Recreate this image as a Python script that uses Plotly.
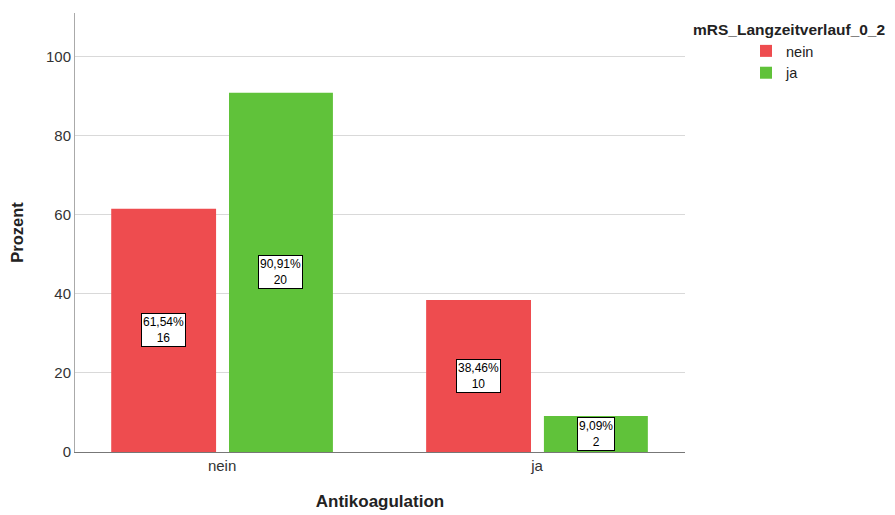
import plotly.graph_objects as go

categories = ["nein", "ja"]
series_names = ["nein", "ja"]
pct_nein = [61.54, 38.46]
pct_ja = [90.91, 9.09]
cnt_nein = [16, 10]
cnt_ja = [20, 2]
pct_labels_nein = ["61,54%", "38,46%"]
pct_labels_ja = ["90,91%", "9,09%"]
y_ticks = [0, 20, 40, 60, 80, 100]

RED = "#EE4C4F"
GREEN = "#60C23A"
FONT = "Liberation Sans, Arial, sans-serif"

xpos = list(range(len(categories)))
fig = go.Figure()
fig.add_trace(go.Bar(x=xpos, y=pct_nein, name=series_names[0], marker=dict(color=RED, line=dict(width=0)),
                     width=0.333, offset=-0.352))
fig.add_trace(go.Bar(x=xpos, y=pct_ja, name=series_names[1], marker=dict(color=GREEN, line=dict(width=0)),
                     width=0.330, offset=0.022))

for xs, ys, pl, cn, off in [(xpos, pct_nein, pct_labels_nein, cnt_nein, -0.1855),
                             (xpos, pct_ja, pct_labels_ja, cnt_ja, 0.187)]:
    for x, y, p, c in zip(xs, ys, pl, cn):
        fig.add_annotation(x=x + off, y=y / 2, text=f"{p}<br>{c}", showarrow=False,
                           font=dict(family=FONT, size=12, color="black"),
                           bgcolor="white", bordercolor="black", borderwidth=1, borderpad=1)

fig.update_layout(
    width=895, height=515,
    margin=dict(l=67, r=218, t=5, b=71),
    plot_bgcolor="white", paper_bgcolor="white",
    font=dict(family=FONT, size=13, color="#333333"),
    barmode="group",
    showlegend=True,
    legend=dict(x=1.100, y=0.950, xanchor="left", yanchor="top", xref="paper", yref="paper",
                font=dict(family=FONT, size=14.5, color="#222222"), tracegroupgap=0,
                itemwidth=30, bgcolor="rgba(0,0,0,0)"),
    xaxis=dict(range=[-0.467, 1.47], tickvals=xpos, ticktext=categories, showgrid=False,
               showline=True, linecolor="#777777", linewidth=1, ticks="", zeroline=False,
               tickfont=dict(size=15, color="#333333"),
               title=dict(text="<b>Antikoagulation</b>", font=dict(size=17, color="#222222"), standoff=22)),
    yaxis=dict(range=[0, 111.1], tickvals=y_ticks, showgrid=True, gridcolor="#D9D9D9", gridwidth=1,
               showline=True, linecolor="#AAAAAA", linewidth=1, ticks="", zeroline=False,
               tickfont=dict(size=15, color="#333333"),
               title=dict(text="<b>Prozent</b>", font=dict(size=16.5, color="#222222"), standoff=20)),
)
fig.add_annotation(xref="paper", yref="paper", x=1.0 + 6 / 610, y=1 - 17 / 439, xanchor="left", yanchor="middle",
                   text="<b>mRS_Langzeitverlauf_0_2</b>", showarrow=False,
                   font=dict(family=FONT, size=15.5, color="#222222"))
fig.write_html("out.html")
